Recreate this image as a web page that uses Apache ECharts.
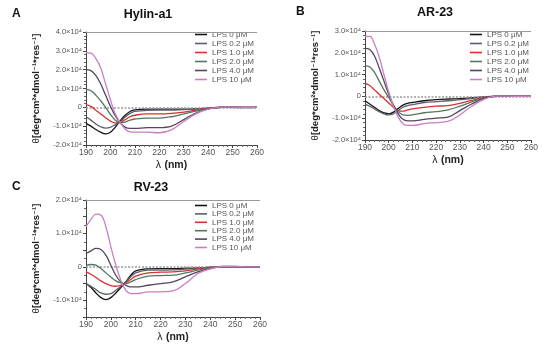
<!DOCTYPE html>
<html><head><meta charset="utf-8">
<script src="https://cdn.jsdelivr.net/npm/echarts@6/dist/echarts.min.js"></script>
<style>html,body{margin:0;padding:0;background:#fff}#c{width:550px;height:354px}</style>
</head><body><div id="c"></div>
<script>
// wavelength (nm)
const wavelengths = [190,192,194,196,198,200,202,204,206,208,210,215,220,225,230,235,240,245,250,255,260];
const seriesNames = ['LPS 0 μM','LPS 0.2 μM','LPS 1.0 μM','LPS 2.0 μM','LPS 4.0 μM','LPS 10 μM'];
// values in units of 10^4 deg*cm2*dmol-1*res-1
const hylinA1 = [
  [-0.85,-1.0,-1.18,-1.32,-1.41,-1.32,-1.05,-0.72,-0.42,-0.22,-0.13,-0.1,-0.1,-0.1,-0.1,-0.08,-0.04,0,0,-0.02,0],
  [-0.5,-0.68,-0.88,-1.03,-1.1,-1.06,-0.92,-0.76,-0.52,-0.32,-0.22,-0.16,-0.15,-0.15,-0.12,-0.09,-0.04,0,0,0,0],
  [0.15,0.05,-0.15,-0.35,-0.55,-0.73,-0.82,-0.8,-0.66,-0.5,-0.42,-0.35,-0.35,-0.32,-0.25,-0.15,-0.05,0,0,0,0],
  [0.95,0.88,0.65,0.35,0.0,-0.38,-0.68,-0.82,-0.78,-0.68,-0.62,-0.57,-0.57,-0.5,-0.35,-0.2,-0.07,0,0,0,0],
  [2.0,1.95,1.7,1.25,0.65,0.05,-0.45,-0.8,-1.05,-1.12,-1.12,-1.08,-1.08,-1.0,-0.65,-0.3,-0.08,0,0.01,0,0],
  [2.9,2.88,2.6,2.1,1.25,0.4,-0.35,-0.8,-1.15,-1.3,-1.32,-1.32,-1.35,-1.2,-0.75,-0.35,-0.1,0.01,0.01,0,0]
];
const ar23 = [
  [-0.2,-0.35,-0.5,-0.65,-0.75,-0.8,-0.72,-0.55,-0.4,-0.32,-0.28,-0.2,-0.15,-0.12,-0.1,-0.06,-0.02,0,0,0,0],
  [-0.35,-0.45,-0.58,-0.7,-0.8,-0.85,-0.8,-0.65,-0.5,-0.42,-0.38,-0.28,-0.24,-0.2,-0.15,-0.1,-0.04,0,0,0,0],
  [0.6,0.5,0.3,0.1,-0.1,-0.3,-0.5,-0.65,-0.68,-0.62,-0.57,-0.5,-0.45,-0.42,-0.32,-0.18,-0.06,0,0,0,0],
  [1.4,1.35,1.1,0.7,0.3,-0.05,-0.4,-0.7,-0.85,-0.87,-0.85,-0.75,-0.7,-0.62,-0.45,-0.25,-0.08,0,0,0,0],
  [2.2,2.15,1.85,1.3,0.7,0.1,-0.4,-0.8,-1.05,-1.12,-1.12,-1.05,-1.0,-0.95,-0.65,-0.35,-0.1,0.01,0.01,0,0],
  [2.75,2.75,2.4,1.8,1.0,0.2,-0.45,-0.95,-1.25,-1.33,-1.33,-1.25,-1.2,-1.15,-0.85,-0.45,-0.15,0.01,0.01,0,0]
];
const rv23 = [
  [-0.5,-0.62,-0.78,-0.92,-0.98,-0.92,-0.78,-0.62,-0.45,-0.25,-0.12,-0.06,-0.05,-0.05,-0.04,-0.03,-0.01,0,0,0,0],
  [-0.5,-0.58,-0.68,-0.78,-0.82,-0.8,-0.7,-0.58,-0.45,-0.3,-0.18,-0.1,-0.1,-0.09,-0.07,-0.04,-0.01,0,0,0,0],
  [-0.15,-0.22,-0.32,-0.42,-0.5,-0.56,-0.58,-0.55,-0.48,-0.38,-0.28,-0.18,-0.16,-0.15,-0.12,-0.06,-0.02,0,0,0,0],
  [0.05,0.07,0.05,-0.05,-0.18,-0.3,-0.42,-0.48,-0.5,-0.45,-0.38,-0.28,-0.26,-0.25,-0.18,-0.1,-0.03,0,0,0,0],
  [0.4,0.48,0.55,0.52,0.35,0.05,-0.25,-0.45,-0.55,-0.6,-0.6,-0.55,-0.5,-0.45,-0.3,-0.15,-0.05,0.01,0.01,0,0],
  [1.2,1.42,1.58,1.55,1.2,0.6,0.05,-0.4,-0.7,-0.8,-0.8,-0.75,-0.75,-0.72,-0.5,-0.2,-0.06,0.01,0.01,0,0]
];
const colors = ['#151515','#5a606c','#d8302e','#55765f','#55455f','#c77fc2'];

const FONT = 'Liberation Sans, Arial, DejaVu Sans, sans-serif';
const panels = [
  {data: hylinA1, grid:{left:86, top:32, width:171, height:113}, ymin:-2, ymax:4, yint:1, legend:{left:195, top:30.5, gap:1}, title:'Hylin-a1', tx:143, ty:3, letter:'A', lx:7, ly:3},
  {data: ar23, grid:{left:365, top:31, width:166, height:109}, ymin:-2, ymax:3, yint:1, legend:{left:470, top:30.5, gap:1}, title:'AR-23', tx:430, ty:1, letter:'B', lx:291, ly:1},
  {data: rv23, grid:{left:86, top:200, width:174, height:117}, ymin:-1.5, ymax:2, yint:0.5, legend:{left:195, top:201.5, gap:0.4}, title:'RV-23', tx:146, ty:176, letter:'C', lx:7, ly:176}
];

function yFmt(v){
  if (Math.abs(v - Math.round(v)) > 1e-6) return '';
  if (Math.abs(v) < 1e-9) return '0';
  return v.toFixed(1) + '×10⁴';
}

const option = {backgroundColor:'#fff', animation:false, grid:[], xAxis:[], yAxis:[], series:[], legend:[], title:[]};
panels.forEach((p, i) => {
  option.grid.push(Object.assign({containLabel:false}, p.grid));
  option.title.push({text:p.title, left:p.tx, top:p.ty, textAlign:'center', textStyle:{fontFamily:FONT, fontSize:12.5, fontWeight:'bold', color:'#111'}});
  option.title.push({text:p.letter, left:p.lx, top:p.ly, textStyle:{fontFamily:FONT, fontSize:12, fontWeight:'bold', color:'#111'}});
  option.xAxis.push({
    type:'value', gridIndex:i, min:190, max:260, interval:10,
    name:'{l|λ} {b|(nm)}', nameLocation:'middle', nameGap:14,
    nameTextStyle:{rich:{l:{fontFamily:FONT, fontSize:10.5, color:'#222'}, b:{fontFamily:FONT, fontSize:10.5, fontWeight:'bold', color:'#222'}}},
    axisLine:{onZero:false, lineStyle:{color:'#444', width:1}},
    axisTick:{length:3, lineStyle:{color:'#444'}},
    minorTick:{show:true, splitNumber:5, length:2, lineStyle:{color:'#666'}},
    axisLabel:{fontFamily:FONT, fontSize:8.5, color:'#555', margin:3},
    splitLine:{show:false}
  });
  option.yAxis.push({
    type:'value', gridIndex:i, min:p.ymin, max:p.ymax, interval:p.yint,
    name:'{t|θ}{b|[deg*cm²*dmol⁻¹*res⁻¹]}', nameLocation:'middle', nameGap:45,
    nameTextStyle:{rich:{t:{fontFamily:FONT, fontSize:9.5, color:'#222'}, b:{fontFamily:FONT, fontSize:9.5, fontWeight:'bold', color:'#222'}}},
    axisLine:{lineStyle:{color:'#444', width:1}},
    axisTick:{length:3, lineStyle:{color:'#444'}},
    minorTick:{show:true, splitNumber: p.yint < 1 ? 2 : 5, length:2, lineStyle:{color:'#666'}},
    axisLabel:{fontFamily:FONT, fontSize:7.5, color:'#555', margin:4, formatter:yFmt},
    splitLine:{show:false}
  });
  p.data.forEach((vals, k) => {
    const s = {
      type:'line', name:seriesNames[k], xAxisIndex:i, yAxisIndex:i,
      data: wavelengths.map((w, j) => [w, vals[j]]),
      smooth:0.4, symbol:'none', showSymbol:false,
      lineStyle:{color:colors[k], width:1.3}, itemStyle:{color:colors[k]}, z:3 + k
    };
    if (k === 0) {
      s.markLine = {silent:true, symbol:'none', label:{show:false},
        data:[
          {yAxis:0, lineStyle:{color:'#9a9a9a', type:[2,1.5], width:1.6}},
          {yAxis:p.ymax, lineStyle:{color:'#9a9a9a', type:'solid', width:1}}
        ]};
    }
    option.series.push(s);
  });
  option.legend.push({
    orient:'vertical', left:p.legend.left, top:p.legend.top,
    itemWidth:12, itemHeight:8, itemGap:p.legend.gap, padding:0,
    data: seriesNames.map(n => ({name:n, icon:'path://M0,0 L12,0 L12,1.6 L0,1.6 Z'})),
    textStyle:{fontFamily:FONT, fontSize:8, color:'#555', padding:[0,0,0,0]},
    selectedMode:false
  });
});
const chart = echarts.init(document.getElementById('c'), null, {renderer:'canvas'});
chart.setOption(option);
</script></body></html>
